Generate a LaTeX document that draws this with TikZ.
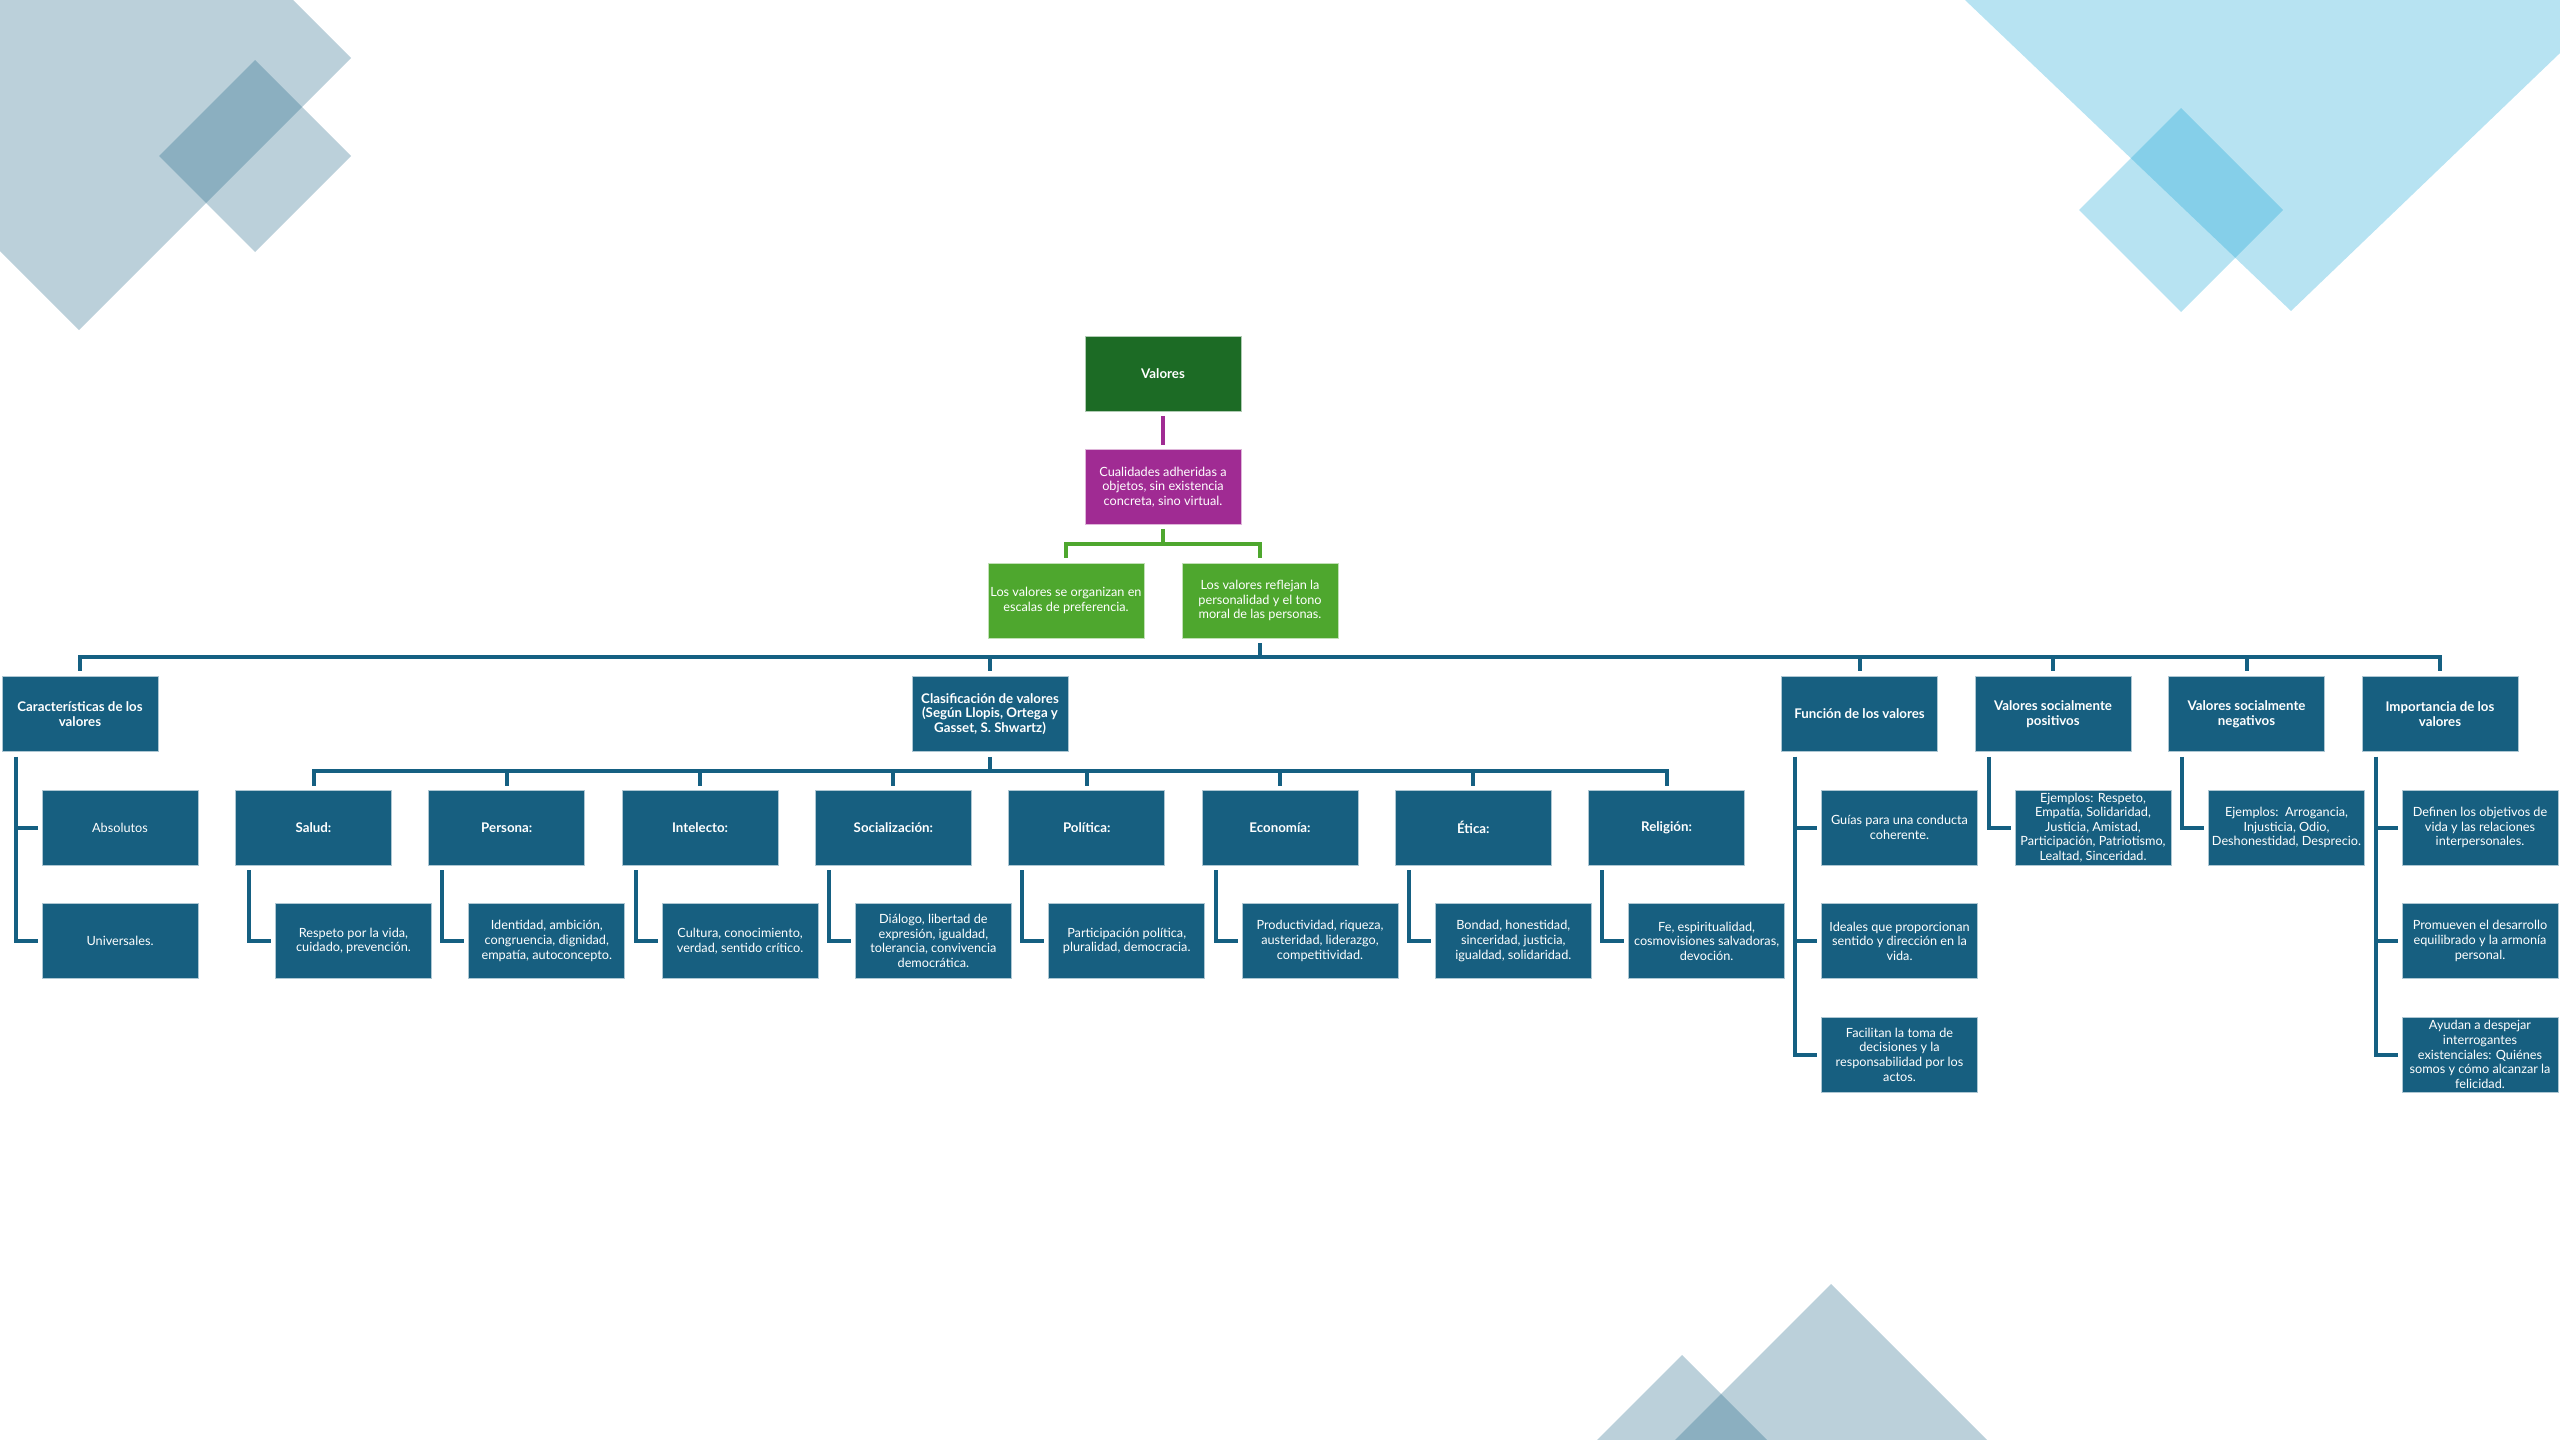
\documentclass[tikz,border=0pt]{standalone}
\usepackage{fontspec}
\setmainfont{Lato}
\definecolor{bblue}{HTML}{175F80}
\definecolor{cblue}{HTML}{156082}
\definecolor{dgreen}{HTML}{1C6B25}
\definecolor{lgreen}{HTML}{4EA72E}
\definecolor{vpurple}{HTML}{A02B93}
\definecolor{shapeA}{HTML}{1E6485}
\definecolor{shapeB}{HTML}{12A2D4}
\tikzset{
  box/.style={rectangle, minimum width=156pt, minimum height=75pt, inner sep=0pt,
    align=center, text=white, font=\fontsize{12.7}{14.6}\selectfont,
    draw=white!65!bblue, line width=0.8pt, fill=bblue},
  hbox/.style={box, font=\fontsize{13.3}{14.6}\selectfont\bfseries},
  conn/.style={draw=cblue, line width=4pt},
  gconn/.style={draw=lgreen, line width=4pt},
  pconn/.style={draw=vpurple, line width=4pt},
  bgA/.style={fill=shapeA, fill opacity=0.3},
  bgB/.style={fill=shapeB, fill opacity=0.3},
}
\begin{document}
\begin{tikzpicture}[x=1pt,y=-1pt]
\useasboundingbox (0,0) rectangle (2560,1440);
\begin{scope}
\clip (0,0) rectangle (2560,1440);
% background shapes
\fill[bgA] (79,-214) -- (351,58) -- (79,330) -- (-193,58) -- cycle;
\fill[bgA] (255,60) -- (351,156) -- (255,252) -- (159,156) -- cycle;
\fill[bgB] (1912.6,-50) -- (2291,311) -- (2620,-4.5) -- (2620,-50) -- cycle;
\fill[bgB] (2181,108) -- (2283,210) -- (2181,312) -- (2079,210) -- cycle;
\fill[bgA] (1831,1284) -- (2031,1484) -- (1631,1484) -- cycle;
\fill[bgA] (1682,1355) -- (1812,1485) -- (1552,1485) -- cycle;
\end{scope}

% top nodes
\node[hbox, fill=dgreen, draw=white!65!dgreen] (V) at (1163,374) {Valores};
\node[box, fill=vpurple, draw=white!65!vpurple] (P) at (1163,487) {Cualidades adheridas a\\objetos, sin existencia\\concreta, sino virtual.};
\node[box, fill=lgreen, draw=white!65!lgreen] (GL) at (1066,600.5) {Los valores se organizan en\\escalas de preferencia.};
\node[box, fill=lgreen, draw=white!65!lgreen] (GR) at (1260,600.5) {Los valores reflejan la\\personalidad y el tono\\moral de las personas.};

% top row
\node[hbox] (Car) at (80,714) {Características de los\\valores};
\node[hbox] (Clas) at (990,714) {Clasificación de valores\\(Según Llopis, Ortega y\\Gasset, S. Shwartz)};
\node[hbox] (Fun) at (1859.5,714) {Función de los valores};
\node[hbox] (Pos) at (2053,714) {Valores socialmente\\positivos};
\node[hbox] (Neg) at (2246.5,714) {Valores socialmente\\negativos};
\node[hbox] (Imp) at (2440,714) {Importancia de los\\valores};

% row 1
\node[box] (Abs) at (120,827.5) {Absolutos};
\node[hbox] (Sal) at (313.5,827.5) {Salud:};
\node[hbox] (Per) at (506.8,827.5) {Persona:};
\node[hbox] (Int) at (700.1,827.5) {Intelecto:};
\node[hbox] (Soc) at (893.4,827.5) {Socialización:};
\node[hbox] (Pol) at (1086.7,827.5) {Política:};
\node[hbox] (Eco) at (1280,827.5) {Economía:};
\node[hbox] (Eti) at (1473.3,827.5) {Ética:};
\node[hbox] (Rel) at (1666.6,827.5) {Religión:};
\node[box] (Fun1) at (1899.5,827.5) {Guías para una conducta\\coherente.};
\node[box] (PosC) at (2093,827.5) {Ejemplos: Respeto,\\Empatía, Solidaridad,\\Justicia, Amistad,\\Participación, Patriotismo,\\Lealtad, Sinceridad.};
\node[box] (NegC) at (2286.5,827.5) {Ejemplos:\ \ Arrogancia,\\Injusticia, Odio,\\Deshonestidad, Desprecio.};
\node[box] (Imp1) at (2480,827.5) {Definen los objetivos de\\vida y las relaciones\\interpersonales.};

% row 2
\node[box] (Uni) at (120,941) {Universales.};
\node[box] (SalC) at (353.5,941) {Respeto por la vida,\\cuidado, prevención.};
\node[box] (PerC) at (546.8,941) {Identidad, ambición,\\congruencia, dignidad,\\empatía, autoconcepto.};
\node[box] (IntC) at (740.1,941) {Cultura, conocimiento,\\verdad, sentido crítico.};
\node[box] (SocC) at (933.4,941) {Diálogo, libertad de\\expresión, igualdad,\\tolerancia, convivencia\\democrática.};
\node[box] (PolC) at (1126.7,941) {Participación política,\\pluralidad, democracia.};
\node[box] (EcoC) at (1320,941) {Productividad, riqueza,\\austeridad, liderazgo,\\competitividad.};
\node[box] (EtiC) at (1513.3,941) {Bondad, honestidad,\\sinceridad, justicia,\\igualdad, solidaridad.};
\node[box] (RelC) at (1706.6,941) {Fe, espiritualidad,\\cosmovisiones salvadoras,\\devoción.};
\node[box] (Fun2) at (1899.5,941) {Ideales que proporcionan\\sentido y dirección en la\\vida.};
\node[box] (Imp2) at (2480,941) {Promueven el desarrollo\\equilibrado y la armonía\\personal.};

% row 3
\node[box] (Fun3) at (1899.5,1054.5) {Facilitan la toma de\\decisiones y la\\responsabilidad por los\\actos.};
\node[box] (Imp3) at (2480,1054.5) {Ayudan a despejar\\interrogantes\\existenciales: Quiénes\\somos y cómo alcanzar la\\felicidad.};

% bar coordinates
\coordinate (gb) at (1163,544);
\coordinate (mb) at (1260,657);
\coordinate (sb) at (990,771);

% connectors
\draw[pconn] ([yshift=-4pt]V.south) -- ([yshift=4pt]P.north);
\draw[gconn] ([yshift=-4pt]P.south) -- (gb);
\draw[gconn] (gb) -| ([yshift=5pt]GL.north);
\draw[gconn] (gb) -| ([yshift=5pt]GR.north);

\draw[conn] ([yshift=-5pt]GR.south) -- (mb);
\foreach \t in {Car,Clas,Fun,Pos,Neg,Imp}
  \draw[conn] (mb) -| ([yshift=5pt]\t.north);

\draw[conn] ([yshift=-5pt]Clas.south) -- (sb);
\foreach \t in {Sal,Per,Int,Soc,Pol,Eco,Eti,Rel}
  \draw[conn] (sb) -| ([yshift=4pt]\t.north);

% elbow connectors
\foreach \p/\c in {Car/Abs,Car/Uni,Sal/SalC,Per/PerC,Int/IntC,Soc/SocC,Pol/PolC,Eco/EcoC,Eti/EtiC,Rel/RelC,Fun/Fun1,Fun/Fun2,Fun/Fun3,Pos/PosC,Neg/NegC,Imp/Imp1,Imp/Imp2,Imp/Imp3}
  \draw[conn] ([xshift=14pt,yshift=-5pt]\p.south west) |- ([xshift=-4pt]\c.west);
\end{tikzpicture}
\end{document}
